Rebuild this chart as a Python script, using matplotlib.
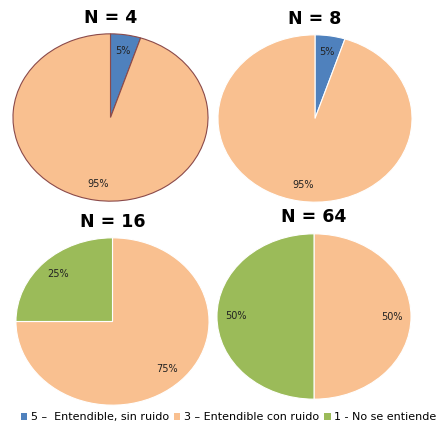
import matplotlib
matplotlib.use("Agg")
import matplotlib.pyplot as plt
from matplotlib.patches import Patch

# categories and shares per panel
categories = ["5 \u2013  Entendible, sin ruido", "3 \u2013 Entendible con ruido", "1 - No se entiende"]
colors = ["#4F81BD", "#F9C090", "#9BBB59"]
titles = ["N = 4", "N = 8", "N = 16", "N = 64"]
shares_n4 = [5, 95, 0]
shares_n8 = [5, 95, 0]
shares_n16 = [0, 75, 25]
shares_n64 = [0, 50, 50]
all_shares = [shares_n4, shares_n8, shares_n16, shares_n64]

W, H = 444, 426
fig = plt.figure(figsize=(W / 100, H / 100), dpi=100)

# pixel boxes of each pie: (x0, y0, x1, y1) from top-left
boxes = [(12, 33, 209, 202), (217, 34, 413, 203), (15, 237, 210, 406), (216, 233, 412, 400)]
title_y = [18, 19, 222, 217]
edges = ["#8B4A4A", "white", "white", "white"]

for shares, box, title, ty, ec in zip(all_shares, boxes, titles, title_y, edges):
    x0, y0, x1, y1 = box
    ax = fig.add_axes([x0 / W, 1 - y1 / H, (x1 - x0) / W, (y1 - y0) / H])
    vals = [v for v in shares if v > 0]
    cols = [c for v, c in zip(shares, colors) if v > 0]
    ax.pie(vals, colors=cols, startangle=90, counterclock=False,
           autopct="%d%%", pctdistance=0.8, radius=1,
           wedgeprops=dict(edgecolor=ec, linewidth=0.8),
           textprops=dict(fontsize=7, color="#222222"))
    ax.set_aspect("auto")
    ax.set_xlim(-1.01, 1.01)
    ax.set_ylim(-1.01, 1.01)
    ax.axis("off")
    fig.text((x0 + x1) / 2 / W, 1 - ty / H, title, ha="center", va="center",
             fontsize=12.5, fontweight="bold")

handles = [Patch(facecolor=c, edgecolor="none") for c in colors]
fig.legend(handles, categories, loc="center", bbox_to_anchor=(0.515, 1 - 417 / H),
           ncol=3, frameon=False, fontsize=8, handlelength=0.6, handleheight=0.6,
           handletextpad=0.35, columnspacing=0.4)

fig.savefig("out.png", dpi=100)
